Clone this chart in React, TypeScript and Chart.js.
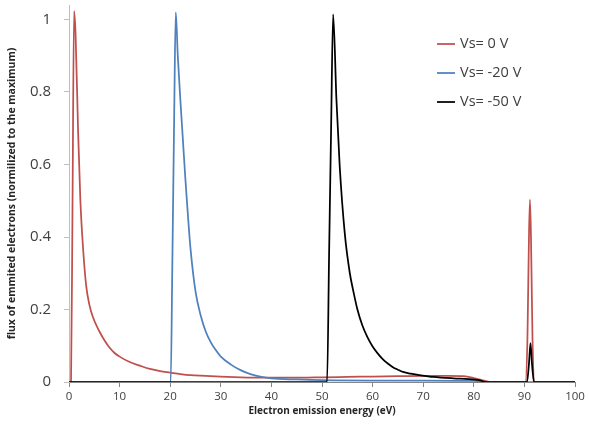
import { useEffect, useRef } from "react";
import { Chart, registerables } from "chart.js";

Chart.register(...registerables);

const seriesNames = ["Vs= 0 V", "Vs= -20 V", "Vs= -50 V"];
const seriesColors = ["#C0504D", "#4F81BD", "#000000"];

const redX = [0, 0.4, 0.7, 1.0, 1.3, 1.8, 2.25, 2.8, 3.4, 4.0, 4.7, 6, 7, 8, 9, 10, 12, 14, 16, 18, 20, 22, 24, 27, 30, 34, 38, 42, 46, 50, 55, 60, 65, 70, 75, 78, 80, 82, 83.5, 86, 90.2, 90.6, 90.9, 91.1, 91.3, 91.6, 92.0, 95, 100];
const redY = [0, 0, 0.5, 1.023, 0.96, 0.69, 0.5, 0.365, 0.265, 0.215, 0.18, 0.14, 0.115, 0.095, 0.08, 0.07, 0.055, 0.045, 0.036, 0.03, 0.026, 0.022, 0.019, 0.017, 0.015, 0.013, 0.012, 0.012, 0.012, 0.013, 0.014, 0.015, 0.016, 0.017, 0.017, 0.016, 0.011, 0.004, 0, 0, 0, 0.12, 0.4, 0.503, 0.4, 0.12, 0, 0, 0];

const blueX = [0, 20.1, 20.4, 20.8, 21.1, 21.5, 22, 22.5, 23, 23.5, 24, 25, 26, 27, 28, 29, 30, 32, 34, 36, 38, 40, 45, 50, 60, 70, 80, 81, 82, 100];
const blueY = [0, 0, 0.3, 0.75, 1.02, 0.9, 0.78, 0.67, 0.56, 0.46, 0.37, 0.25, 0.185, 0.14, 0.11, 0.088, 0.07, 0.048, 0.032, 0.021, 0.014, 0.01, 0.007, 0.005, 0.004, 0.004, 0.003, 0.002, 0, 0];

const blackX = [0, 51.0, 51.4, 51.8, 52.2, 52.85, 53.5, 54.5, 55.5, 56.2, 57, 58, 59, 60, 61, 62, 63, 64, 65, 66, 67.5, 69.3, 72, 76, 79, 81, 82.5, 90.5, 90.9, 91.2, 91.5, 91.9, 100];
const blackY = [0, 0, 0.35, 0.7, 1.014, 0.78, 0.595, 0.41, 0.3, 0.25, 0.2, 0.155, 0.123, 0.098, 0.079, 0.063, 0.051, 0.041, 0.034, 0.028, 0.023, 0.019, 0.014, 0.01, 0.008, 0.005, 0, 0, 0.05, 0.107, 0.05, 0, 0];

const xTicks = [0, 10, 20, 30, 40, 50, 60, 70, 80, 90, 100];
const yTicks = [0, 0.2, 0.4, 0.6, 0.8, 1];

const xTitle = "Electron emission energy (eV)";
const yTitle = "flux of emmited electrons (normilized to the maximum)";

const FONT = '"Open Sans", "Liberation Sans", sans-serif';

export default function App() {
  const ref = useRef<HTMLCanvasElement>(null);

  useEffect(() => {
    if (!ref.current) return;
    const mk = (xs: number[], ys: number[]) => xs.map((x, i) => ({ x, y: ys[i] }));
    const seriesX = [redX, blueX, blackX];
    const seriesY = [redY, blueY, blackY];

    const legendPlugin = {
      id: "customLegend",
      afterDraw(chart: any) {
        const ctx = chart.ctx;
        ctx.save();
        ctx.font = `14.5px ${FONT}`;
        ctx.textBaseline = "middle";
        ctx.textAlign = "left";
        seriesNames.forEach((name, i) => {
          const y = 44 + i * 29;
          ctx.strokeStyle = seriesColors[i];
          ctx.lineWidth = 1.75;
          ctx.beginPath();
          ctx.moveTo(437, y);
          ctx.lineTo(455, y);
          ctx.stroke();
          ctx.fillStyle = "#404040";
          ctx.fillText(name, 460, y);
        });
        ctx.restore();
      },
    };

    const chart = new Chart(ref.current, {
      type: "scatter",
      data: {
        datasets: seriesNames.map((name, i) => ({
          label: name,
          data: mk(seriesX[i], seriesY[i]),
          showLine: true,
          borderColor: seriesColors[i],
          backgroundColor: seriesColors[i],
          borderWidth: 1.75,
          pointRadius: 0,
          cubicInterpolationMode: "monotone" as const,
          order: 2 - i,
        })),
      },
      options: {
        animation: false,
        responsive: true,
        maintainAspectRatio: false,
        layout: { padding: { top: 5, right: 14, left: 0, bottom: 0 } },
        font: { family: FONT },
        plugins: {
          legend: { display: false },
          tooltip: { enabled: false },
        },
        scales: {
          x: {
            type: "linear",
            min: 0,
            max: 100,
            afterBuildTicks: (s: any) => {
              s.ticks = xTicks.map((v) => ({ value: v }));
            },
            afterFit: (s: any) => {
              s.height = 43;
              s.paddingLeft = 0;
              s.paddingRight = 0;
            },
            ticks: {
              font: { size: 11.5, family: FONT },
              color: "#404040",
              padding: 3,
              maxRotation: 0,
              callback: (v: any) => String(v),
            },
            grid: { drawOnChartArea: false, tickLength: 5, color: "#868686" },
            border: { color: "#868686", width: 1 },
            title: {
              display: true,
              text: xTitle,
              font: { size: 10, weight: "bold", family: FONT },
              color: "#262626",
              padding: { top: 0, bottom: 8 },
            },
          },
          y: {
            type: "linear",
            min: 0,
            max: 1.04,
            afterBuildTicks: (s: any) => {
              s.ticks = yTicks.map((v) => ({ value: v }));
            },
            afterFit: (s: any) => {
              s.width = 69;
              s.paddingTop = 0;
              s.paddingBottom = 0;
            },
            ticks: {
              font: { size: 15, family: FONT },
              color: "#404040",
              padding: 13,
              callback: (v: any) => String(Number(Number(v).toFixed(1))),
            },
            grid: { drawOnChartArea: false, tickLength: 5, color: "#bfbfbf" },
            border: { color: "#bfbfbf", width: 1 },
            title: {
              display: true,
              text: yTitle,
              font: { size: 10.5, weight: "bold", family: FONT },
              color: "#262626",
              padding: { top: 6, bottom: 0 },
            },
          },
        },
      },
      plugins: [legendPlugin],
    });

    return () => chart.destroy();
  }, []);

  return (
    <div style={{ position: "absolute", left: 0, top: 0, width: 589, height: 425, background: "#ffffff" }}>
      <canvas ref={ref} />
    </div>
  );
}
